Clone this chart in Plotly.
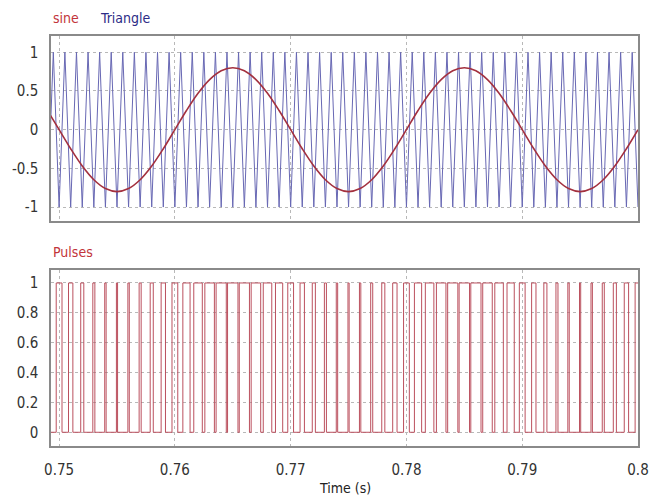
import plotly.graph_objects as go

# ---- data -------------------------------------------------------------
# modulating sine (sampled every 1 ms)
sine_t = [
    0.749, 0.750, 0.751, 0.752, 0.753, 0.754, 0.755, 0.756, 0.757, 0.758,
    0.759, 0.760, 0.761, 0.762, 0.763, 0.764, 0.765, 0.766, 0.767, 0.768,
    0.769, 0.770, 0.771, 0.772, 0.773, 0.774, 0.775, 0.776, 0.777, 0.778,
    0.779, 0.780, 0.781, 0.782, 0.783, 0.784, 0.785, 0.786, 0.787, 0.788,
    0.789, 0.790, 0.791, 0.792, 0.793, 0.794, 0.795, 0.796, 0.797, 0.798,
    0.799, 0.800,
]
sine_v = [
    0.247, 0.000, -0.247, -0.470, -0.647, -0.761, -0.800, -0.761, -0.647, -0.470,
    -0.247, 0.000, 0.247, 0.470, 0.647, 0.761, 0.800, 0.761, 0.647, 0.470,
    0.247, 0.000, -0.247, -0.470, -0.647, -0.761, -0.800, -0.761, -0.647, -0.470,
    -0.247, 0.000, 0.247, 0.470, 0.647, 0.761, 0.800, 0.761, 0.647, 0.470,
    0.247, 0.000, -0.247, -0.470, -0.647, -0.761, -0.800, -0.761, -0.647, -0.470,
    -0.247, 0.000,
]

# triangular carrier (vertex times and levels)
tri_t = [
    0.7490, 0.7495, 0.7500, 0.7505, 0.7510, 0.7515, 0.7520, 0.7525, 0.7530, 0.7535,
    0.7540, 0.7545, 0.7550, 0.7555, 0.7560, 0.7565, 0.7570, 0.7575, 0.7580, 0.7585,
    0.7590, 0.7595, 0.7600, 0.7605, 0.7610, 0.7615, 0.7620, 0.7625, 0.7630, 0.7635,
    0.7640, 0.7645, 0.7650, 0.7655, 0.7660, 0.7665, 0.7670, 0.7675, 0.7680, 0.7685,
    0.7690, 0.7695, 0.7700, 0.7705, 0.7710, 0.7715, 0.7720, 0.7725, 0.7730, 0.7735,
    0.7740, 0.7745, 0.7750, 0.7755, 0.7760, 0.7765, 0.7770, 0.7775, 0.7780, 0.7785,
    0.7790, 0.7795, 0.7800, 0.7805, 0.7810, 0.7815, 0.7820, 0.7825, 0.7830, 0.7835,
    0.7840, 0.7845, 0.7850, 0.7855, 0.7860, 0.7865, 0.7870, 0.7875, 0.7880, 0.7885,
    0.7890, 0.7895, 0.7900, 0.7905, 0.7910, 0.7915, 0.7920, 0.7925, 0.7930, 0.7935,
    0.7940, 0.7945, 0.7950, 0.7955, 0.7960, 0.7965, 0.7970, 0.7975, 0.7980, 0.7985,
    0.7990, 0.7995, 0.8000,
]
tri_v = [
    -1, 1, -1, 1, -1, 1, -1, 1, -1, 1,
    -1, 1, -1, 1, -1, 1, -1, 1, -1, 1,
    -1, 1, -1, 1, -1, 1, -1, 1, -1, 1,
    -1, 1, -1, 1, -1, 1, -1, 1, -1, 1,
    -1, 1, -1, 1, -1, 1, -1, 1, -1, 1,
    -1, 1, -1, 1, -1, 1, -1, 1, -1, 1,
    -1, 1, -1, 1, -1, 1, -1, 1, -1, 1,
    -1, 1, -1, 1, -1, 1, -1, 1, -1, 1,
    -1, 1, -1, 1, -1, 1, -1, 1, -1, 1,
    -1, 1, -1, 1, -1, 1, -1, 1, -1, 1,
    -1, 1, -1,
]

# gate pulses: rising and falling edge times
pulse_on = [
    0.749750, 0.750812, 0.751867, 0.752912, 0.753940, 0.754950, 0.755940, 0.756912, 0.757867, 0.758812,
    0.759750, 0.760688, 0.761632, 0.762588, 0.763560, 0.764550, 0.765560, 0.766588, 0.767632, 0.768688,
    0.769750, 0.770812, 0.771867, 0.772912, 0.773940, 0.774950, 0.775940, 0.776912, 0.777867, 0.778812,
    0.779750, 0.780688, 0.781632, 0.782588, 0.783560, 0.784550, 0.785560, 0.786588, 0.787632, 0.788688,
    0.789750, 0.790812, 0.791867, 0.792912, 0.793940, 0.794950, 0.795940, 0.796912, 0.797867, 0.798812,
    0.799750,
]
pulse_off = [
    0.750250, 0.751188, 0.752133, 0.753088, 0.754060, 0.755050, 0.756060, 0.757088, 0.758133, 0.759188,
    0.760250, 0.761312, 0.762368, 0.763412, 0.764440, 0.765450, 0.766440, 0.767412, 0.768368, 0.769312,
    0.770250, 0.771188, 0.772133, 0.773088, 0.774060, 0.775050, 0.776060, 0.777088, 0.778133, 0.779188,
    0.780250, 0.781312, 0.782368, 0.783412, 0.784440, 0.785450, 0.786440, 0.787412, 0.788368, 0.789312,
    0.790250, 0.791188, 0.792133, 0.793088, 0.794060, 0.795050, 0.796060, 0.797088, 0.798133, 0.799188,
    0.800250,
]

x_ticks = [0.75, 0.76, 0.77, 0.78, 0.79, 0.80]
x_tick_text = ["0.75", "0.76", "0.77", "0.78", "0.79", "0.8"]
top_ticks = [-1, -0.5, 0, 0.5, 1]
top_tick_text = ["-1", "-0.5", "0", "0.5", "1"]
bot_ticks = [0, 0.2, 0.4, 0.6, 0.8, 1]
bot_tick_text = ["0", "0.2", "0.4", "0.6", "0.8", "1"]

# ---- build the step waveform for the pulses --------------------------
pulse_x = [sine_t[0]]
pulse_y = [0]
for on, off in zip(pulse_on, pulse_off):
    pulse_x += [on, on, off, off]
    pulse_y += [0, 1, 1, 0]

# ---- styling ----------------------------------------------------------
FONT = "Liberation Sans Narrow, Arial Narrow, DejaVu Sans Condensed, Liberation Sans, Arial, sans-serif"
TICK_FONT = dict(family=FONT, size=15, color="#333333")
FRAME = "#8a8a8a"
GRID = "#b8b8b8"

fig = go.Figure()

fig.add_trace(go.Scatter(
    x=tri_t, y=tri_v, mode="lines", name="Triangle",
    line=dict(color="#6868b4", width=1),
    xaxis="x", yaxis="y",
))
fig.add_trace(go.Scatter(
    x=sine_t, y=sine_v, mode="lines", name="sine",
    line=dict(color="#a3303e", width=1.6, shape="spline"),
    xaxis="x", yaxis="y",
))
fig.add_trace(go.Scatter(
    x=pulse_x, y=pulse_y, mode="lines", name="Pulses",
    line=dict(color="#bb505e", width=1),
    xaxis="x2", yaxis="y2",
))

x_common = dict(
    range=[0.7493, 0.8], tickvals=x_ticks, ticktext=x_tick_text,
    showgrid=True, gridcolor=GRID, griddash="dot", gridwidth=1,
    showline=True, linecolor=FRAME, linewidth=1.5, mirror=True,
    zeroline=False, ticks="", tickfont=TICK_FONT,
)
y_common = dict(
    showgrid=True, gridcolor=GRID, griddash="dot", gridwidth=1,
    showline=True, linecolor=FRAME, linewidth=1.5, mirror=True,
    zeroline=False, ticks="", tickfont=TICK_FONT, ticklabelstandoff=8,
)

fig.update_layout(
    width=661, height=498,
    margin=dict(l=41, r=20, t=36, b=52),
    paper_bgcolor="white", plot_bgcolor="white",
    showlegend=False,
    xaxis=dict(**x_common, domain=[0, 1], anchor="y", showticklabels=False),
    yaxis=dict(**y_common, domain=[0.5488, 1], range=[-1.18, 1.21],
               tickvals=top_ticks, ticktext=top_tick_text),
    xaxis2=dict(**x_common, domain=[0, 1], anchor="y2", ticklabelstandoff=9),
    yaxis2=dict(**y_common, domain=[0, 0.4293], range=[-0.092, 1.087],
                tickvals=bot_ticks, ticktext=bot_tick_text),
    annotations=[
        dict(text="sine", x=0, y=1.0439, xref="paper", yref="paper",
             xanchor="left", yanchor="middle", showarrow=False,
             font=dict(family=FONT, size=14, color="#c2343a")),
        dict(text="Triangle", x=0.08, y=1.0439, xref="paper", yref="paper",
             xanchor="left", yanchor="middle", showarrow=False,
             font=dict(family=FONT, size=14, color="#2c2c86")),
        dict(text="Pulses", x=0, y=0.4732, xref="paper", yref="paper",
             xanchor="left", yanchor="middle", showarrow=False,
             font=dict(family=FONT, size=14, color="#c2343a")),
        dict(text="Time (s)", x=0.5017, y=-0.1024, xref="paper", yref="paper",
             xanchor="center", yanchor="middle", showarrow=False,
             font=dict(family=FONT, size=14, color="#222222")),
    ],
)

fig.write_html("out.html")
